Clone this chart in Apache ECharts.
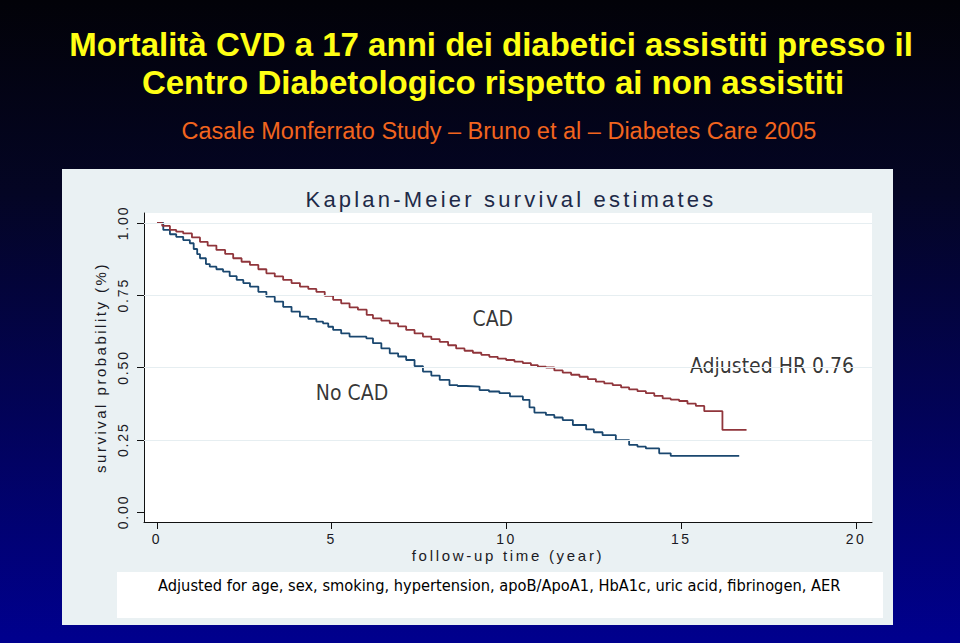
<!DOCTYPE html>
<html>
<head>
<meta charset="utf-8">
<script src="https://cdn.jsdelivr.net/npm/echarts@6/dist/echarts.min.js"></script>
<style>
  html, body { margin: 0; padding: 0; background: #000; }
  #chart { width: 960px; height: 643px; }
</style>
</head>
<body>
<div id="chart"></div>
<script>
// ---- data ----
const cadTime = [0, 0.15, 0.37, 0.55, 0.75, 1.0, 1.23, 1.45, 1.70, 1.95, 2.18, 2.42, 2.66, 2.90, 3.13, 3.37, 3.61, 3.85, 4.09, 4.33, 4.56, 4.80, 5.04, 5.27, 5.51, 5.75, 6.00, 6.18, 6.42, 6.66, 6.90, 7.13, 7.37, 7.61, 7.85, 8.09, 8.33, 8.56, 8.80, 9.04, 9.28, 9.51, 9.75, 9.99, 10.23, 10.47, 10.70, 10.90, 11.13, 11.37, 11.61, 11.85, 12.09, 12.33, 12.56, 12.80, 13.04, 13.28, 13.51, 13.75, 13.99, 14.23, 14.47, 14.70, 14.94, 15.18, 15.42, 15.66, 16.18, 16.87];
const cadSurv = [1.000, 0.990, 0.976, 0.970, 0.964, 0.950, 0.935, 0.922, 0.907, 0.893, 0.878, 0.866, 0.855, 0.840, 0.826, 0.815, 0.803, 0.792, 0.780, 0.772, 0.762, 0.748, 0.734, 0.722, 0.708, 0.700, 0.682, 0.670, 0.662, 0.653, 0.642, 0.630, 0.618, 0.607, 0.598, 0.589, 0.577, 0.566, 0.558, 0.551, 0.544, 0.537, 0.531, 0.526, 0.520, 0.515, 0.508, 0.503, 0.500, 0.490, 0.482, 0.475, 0.468, 0.460, 0.451, 0.445, 0.439, 0.431, 0.424, 0.418, 0.411, 0.402, 0.393, 0.389, 0.384, 0.375, 0.367, 0.349, 0.284, 0.284];

const noCadTime = [0, 0.18, 0.37, 0.55, 0.75, 0.94, 1.05, 1.15, 1.23, 1.40, 1.51, 1.70, 1.89, 2.08, 2.28, 2.47, 2.66, 2.90, 3.13, 3.37, 3.61, 3.85, 4.09, 4.33, 4.56, 4.75, 4.90, 5.04, 5.27, 5.51, 5.99, 6.18, 6.42, 6.66, 6.90, 7.13, 7.37, 7.61, 7.85, 8.09, 8.37, 8.60, 8.85, 9.23, 9.50, 9.80, 10.10, 10.47, 10.66, 10.80, 11.13, 11.37, 11.61, 11.90, 12.28, 12.50, 12.75, 13.13, 13.51, 13.75, 13.99, 14.37, 14.70, 16.66];
const noCadSurv = [1.000, 0.976, 0.961, 0.952, 0.941, 0.930, 0.910, 0.892, 0.878, 0.858, 0.849, 0.840, 0.832, 0.816, 0.803, 0.792, 0.780, 0.762, 0.745, 0.728, 0.710, 0.693, 0.676, 0.668, 0.659, 0.653, 0.641, 0.630, 0.618, 0.607, 0.601, 0.584, 0.566, 0.549, 0.538, 0.526, 0.505, 0.486, 0.472, 0.457, 0.439, 0.436, 0.434, 0.422, 0.417, 0.411, 0.400, 0.388, 0.362, 0.344, 0.336, 0.327, 0.318, 0.301, 0.286, 0.276, 0.266, 0.249, 0.232, 0.226, 0.220, 0.203, 0.194, 0.194];

const xTicks = [0, 5, 10, 15, 20];
const yTicks = [0, 0.25, 0.5, 0.75, 1];
const yGrid = [0.25, 0.5, 0.75, 1];

const titleLine1 = 'Mortalità CVD a 17 anni dei diabetici assistiti presso il';
const titleLine2 = 'Centro Diabetologico rispetto ai non assistiti';
const subtitleText = 'Casale Monferrato Study – Bruno et al – Diabetes Care 2005';
const plotTitle = 'Kaplan-Meier survival estimates';
const xName = 'follow-up time (year)';
const yName = 'survival probability (%)';
const footText = 'Adjusted for age, sex, smoking, hypertension, apoB/ApoA1, HbA1c, uric acid, fibrinogen, AER';
const annotations = [
  { text: 'CAD', coord: [9.61, 0.668] },
  { text: 'No CAD', coord: [5.58, 0.412] },
  { text: 'Adjusted HR 0.76', coord: [17.6, 0.505] }
];

// ---- chart ----
const el = document.getElementById('chart');
const chart = echarts.init(el, null, { renderer: 'svg', width: 960, height: 643 });

const zip = (a, b) => a.map((v, i) => [v, b[i]]);
const axisFont = 'Liberation Sans, Arial, sans-serif';
const noteFont = 'DejaVu Sans Condensed, DejaVu Sans, sans-serif';

const option = {
  animation: false,
  backgroundColor: {
    type: 'linear', x: 0, y: 0, x2: 0, y2: 1,
    colorStops: [
      { offset: 0, color: '#020208' },
      { offset: 0.3, color: '#040524' },
      { offset: 1, color: '#00008e' }
    ]
  },
  title: [
    { text: titleLine1, left: 486, top: 23, textAlign: 'center',
      textStyle: { color: '#ffff14', fontSize: 33, fontWeight: 'bold', fontFamily: axisFont } },
    { text: titleLine2, left: 488, top: 61, textAlign: 'center',
      textStyle: { color: '#ffff14', fontSize: 33, fontWeight: 'bold', fontFamily: axisFont } },
    { text: subtitleText, left: 494, top: 114, textAlign: 'center',
      textStyle: { color: '#f2641e', fontSize: 23.5, fontWeight: 'normal', fontFamily: axisFont } },
    { text: plotTitle, left: 506, top: 183, textAlign: 'center',
      textStyle: { color: '#1e2a48', fontSize: 22, fontWeight: 'normal', fontFamily: axisFont } }
  ],
  graphic: [
    { type: 'rect', z: -10, shape: { x: 62, y: 169, width: 831, height: 456 },
      style: { fill: '#eaf1f3' } },
    { type: 'rect', z: -9, shape: { x: 117, y: 572, width: 766, height: 46 },
      style: { fill: '#ffffff' } },
    { type: 'text', z: 5, left: 158, top: 577,
      style: { text: footText, fill: '#000', font: '16.3px ' + noteFont } }
  ],
  grid: {
    left: 144, top: 213, right: 88, bottom: 121,
    show: true, backgroundColor: '#ffffff', borderWidth: 0
  },
  xAxis: {
    type: 'value', min: -0.372, max: 20.46,
    name: xName, nameLocation: 'middle', nameGap: 26,
    nameTextStyle: { color: '#1a1a24', fontSize: 15, fontFamily: axisFont },
    axisLine: { show: true, onZero: false, lineStyle: { color: '#111', width: 1 } },
    axisTick: { show: true, customValues: xTicks, length: 7, lineStyle: { color: '#111' } },
    axisLabel: { customValues: xTicks, margin: 10, color: '#1a1a24', fontSize: 14, fontFamily: axisFont,
      formatter: v => String(v) },
    splitLine: { show: false }
  },
  yAxis: {
    type: 'value', min: -0.0346, max: 1.0346,
    name: yName, nameLocation: 'middle', nameGap: 35, nameRotate: 90,
    nameTextStyle: { color: '#1a1a24', fontSize: 15, fontFamily: axisFont },
    axisLine: { show: true, onZero: false, lineStyle: { color: '#111', width: 1 } },
    axisTick: { show: true, customValues: yTicks, length: 7, lineStyle: { color: '#111' } },
    axisLabel: { customValues: yTicks, rotate: 90, margin: 14, color: '#1a1a24', fontSize: 14, fontFamily: axisFont,
      formatter: v => v.toFixed(2) },
    splitLine: { show: false }
  },
  series: [
    {
      name: 'grid', type: 'line', data: [], silent: true,
      markLine: {
        silent: true, symbol: 'none', label: { show: false },
        lineStyle: { color: '#e6eef1', width: 1, type: 'solid' },
        data: yGrid.map(v => ({ yAxis: v }))
      }
    },
    {
      name: 'No CAD', type: 'line', step: 'end', showSymbol: false, z: 3,
      lineStyle: { color: '#1a476f', width: 1.8 },
      data: zip(noCadTime, noCadSurv)
    },
    {
      name: 'CAD', type: 'line', step: 'end', showSymbol: false, z: 3,
      lineStyle: { color: '#90353b', width: 1.8 },
      data: zip(cadTime, cadSurv)
    },
    {
      name: 'notes', type: 'scatter', symbolSize: 0, silent: true, z: 4,
      itemStyle: { color: 'transparent' },
      data: annotations.map(a => ({ value: a.coord, name: a.text })),
      label: { show: true, position: 'inside', formatter: p => p.name,
        color: '#000', textBorderWidth: 0, textBorderColor: 'transparent',
        fontSize: 21, fontFamily: noteFont }
    }
  ]
};
chart.setOption(option);

const spacing = {};
spacing[plotTitle] = 3.2;
spacing[xName] = 2.7;
spacing[yName] = 2.5;
yTicks.forEach(v => { spacing[v.toFixed(2)] = 1.8; });
xTicks.forEach(v => { spacing[String(v)] = 2.5; });
function applySpacing() {
  el.querySelectorAll('text').forEach(t => {
    const s = t.textContent;
    if (spacing[s] !== undefined) t.style.letterSpacing = spacing[s] + 'px';
  });
}
chart.on('finished', applySpacing);
applySpacing();
setTimeout(applySpacing, 0);
</script>
</body>
</html>
